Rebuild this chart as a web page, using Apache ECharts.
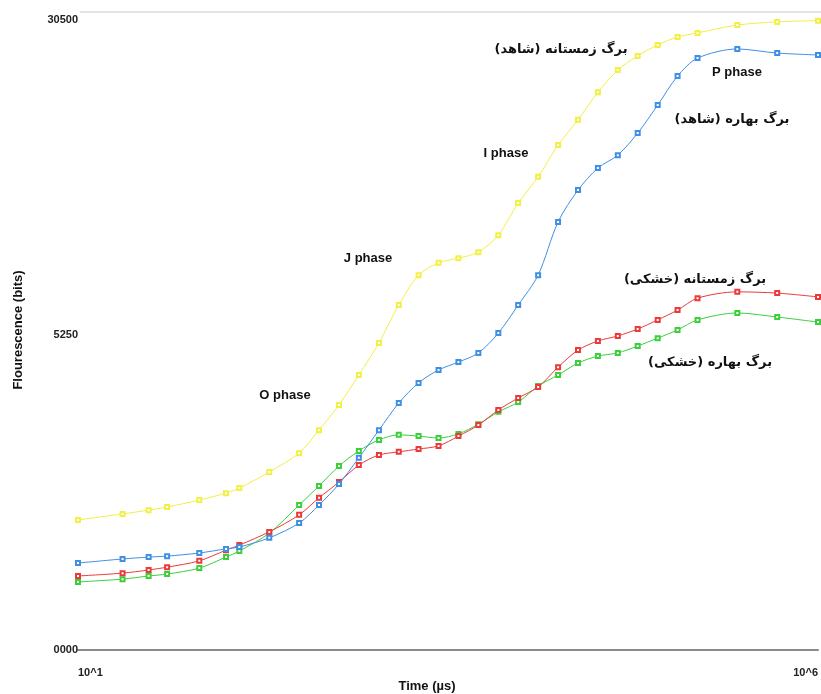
<!DOCTYPE html>
<html>
<head>
<meta charset="utf-8">
<script src="https://cdn.jsdelivr.net/npm/echarts@6/dist/echarts.min.js"></script>
<style>
  html, body { margin: 0; padding: 0; background: #fff; }
  #chart { width: 821px; height: 694px; }
</style>
</head>
<body>
<div id="chart"></div>
<script>
// Time points (µs) shared by all four OJIP transients
const times = [10, 20, 30, 40, 66, 100, 123, 196, 312, 425, 580, 790, 1080, 1470, 2000, 2730,
  3720, 5070, 6920, 9420, 12850, 17530, 23900, 32570, 44400, 60500, 82600, 112500, 153500,
  285000, 530000, 1000000];

// Fluorescence in axis units (0 = 0000, 1 = 5250, 2 = 30500)
const winterControl = [0.413, 0.432, 0.444, 0.454, 0.476, 0.498, 0.514, 0.565, 0.625, 0.698, 0.778,
  0.873, 0.975, 1.095, 1.190, 1.229, 1.244, 1.263, 1.317, 1.419, 1.502, 1.603, 1.683, 1.771,
  1.841, 1.886, 1.921, 1.946, 1.959, 1.984, 1.994, 1.998];
const springControl = [0.276, 0.289, 0.295, 0.298, 0.308, 0.321, 0.327, 0.356, 0.403, 0.460, 0.527,
  0.610, 0.698, 0.784, 0.848, 0.889, 0.914, 0.943, 1.006, 1.095, 1.190, 1.359, 1.460, 1.530,
  1.571, 1.641, 1.730, 1.822, 1.879, 1.908, 1.895, 1.889];
const winterDrought = [0.235, 0.244, 0.254, 0.263, 0.283, 0.317, 0.333, 0.375, 0.429, 0.483, 0.533,
  0.587, 0.619, 0.629, 0.638, 0.648, 0.679, 0.714, 0.762, 0.800, 0.835, 0.898, 0.952, 0.981,
  0.997, 1.019, 1.048, 1.079, 1.117, 1.137, 1.133, 1.121];
const springDrought = [0.216, 0.225, 0.235, 0.241, 0.260, 0.295, 0.314, 0.371, 0.460, 0.521, 0.584,
  0.632, 0.667, 0.683, 0.679, 0.673, 0.686, 0.717, 0.756, 0.787, 0.838, 0.873, 0.911, 0.933,
  0.943, 0.965, 0.990, 1.016, 1.048, 1.070, 1.057, 1.041];

const yTickLabels = ['0000', '5250', '30500'];
const xTickLabels = { 1: '10^1', 6: '10^6' };

const seriesNames = ['برگ زمستانه (شاهد)', 'برگ بهاره (شاهد)', 'برگ زمستانه (خشکی)', 'برگ بهاره (خشکی)'];
const seriesValues = [winterControl, springControl, winterDrought, springDrought];
const seriesColors = ['#f2ef45', '#3f8fe6', '#ec3a3a', '#3ccf3c'];

const phaseLabels = ['O phase', 'J phase', 'I phase', 'P phase'];

const chart = echarts.init(document.getElementById('chart'));

const boldText = (text, x, y, opts) => Object.assign({
  type: 'text', x, y,
  style: Object.assign({
    text, fill: '#111', font: 'bold 13px "Liberation Sans", Arial, sans-serif',
    align: 'center', verticalAlign: 'middle'
  }, opts || {})
});

const arabicFont = 'bold 13px "DejaVu Sans", sans-serif';

chart.setOption({
  animation: false,
  backgroundColor: '#fff',
  grid: { left: 78, right: 0, top: 20, bottom: 44, containLabel: false },
  xAxis: {
    type: 'log', logBase: 10, min: 10, max: 1000000,
    axisLine: { show: true, lineStyle: { color: '#8a8a8a', width: 2 } },
    axisTick: { show: false },
    splitLine: { show: false },
    minorTick: { show: false },
    axisLabel: {
      margin: 17, color: '#222', fontSize: 11, fontWeight: 'bold',
      fontFamily: '"Liberation Sans", Arial, sans-serif',
      alignMinLabel: 'left', alignMaxLabel: 'right',
      formatter: v => xTickLabels[Math.round(Math.log10(v))] || ''
    }
  },
  yAxis: {
    type: 'value', min: 0, max: 2, interval: 1,
    axisLine: { show: false }, axisTick: { show: false }, splitLine: { show: false },
    axisLabel: {
      margin: 0, color: '#222', fontSize: 11, fontWeight: 'bold',
      fontFamily: '"Liberation Sans", Arial, sans-serif',
      formatter: v => yTickLabels[v]
    }
  },
  series: seriesValues.map((vals, i) => ({
    type: 'line',
    name: seriesNames[i],
    data: times.map((t, j) => [t, vals[j]]),
    smooth: 0.3,
    symbol: 'emptyRect',
    symbolSize: 4,
    lineStyle: { color: seriesColors[i], width: 1 },
    itemStyle: { color: seriesColors[i], borderColor: seriesColors[i], borderWidth: 1 },
    z: 4 - i
  })),
  graphic: [
    { type: 'line', shape: { x1: 80, y1: 12, x2: 821, y2: 12 }, style: { stroke: '#e4e4e4', lineWidth: 2 } },
    boldText('Time (µs)', 427, 686),
    boldText('Flourescence (bits)', 18, 330, {}),
    boldText(phaseLabels[0], 285, 395),
    boldText(phaseLabels[1], 368, 258),
    boldText(phaseLabels[2], 506, 153),
    boldText(phaseLabels[3], 737, 72),
    boldText(seriesNames[0], 561, 50, { font: arabicFont }),
    boldText(seriesNames[1], 732, 120, { font: arabicFont }),
    boldText(seriesNames[2], 695, 280, { font: arabicFont }),
    boldText(seriesNames[3], 710, 363, { font: arabicFont })
  ].map((g, i) => i === 2 ? Object.assign(g, { rotation: Math.PI / 2 }) : g)
});
</script>
</body>
</html>
